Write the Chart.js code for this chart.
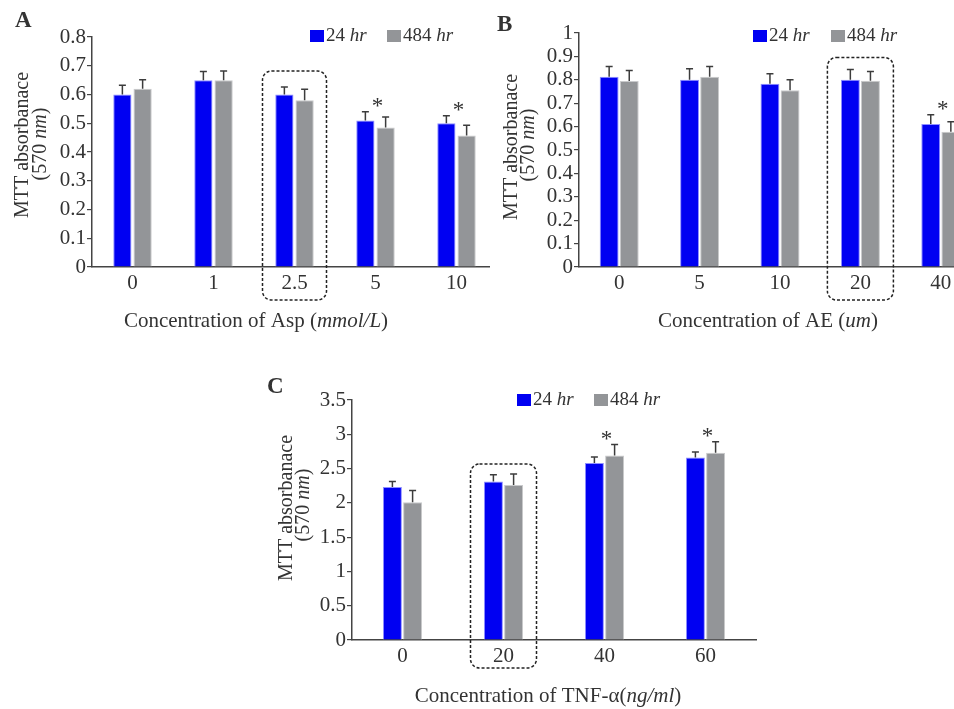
<!DOCTYPE html>
<html lang="en">
<head>
<meta charset="UTF-8">
<title>MTT absorbance</title>
<script src="https://cdn.jsdelivr.net/npm/chart.js@4.4.1/dist/chart.umd.min.js"></script>
<style>
  html, body { margin: 0; padding: 0; overflow: hidden; background: #fff; }
  body { width: 954px; height: 709px; position: relative; }
  .panel { position: absolute; background: #fff; }
</style>
</head>
<body>
<div class="panel" style="left:0;top:0;width:500px;height:345px"><canvas id="chartA"></canvas></div>
<div class="panel" style="left:490px;top:0;width:500px;height:345px"><canvas id="chartB"></canvas></div>
<div class="panel" style="left:255px;top:365px;width:520px;height:344px"><canvas id="chartC"></canvas></div>

<script>
// panel A - Asp
const labelsA = ['0', '1', '2.5', '5', '10'];
const hr24A = [0.60, 0.65, 0.60, 0.51, 0.50];
const hr484A = [0.62, 0.65, 0.58, 0.485, 0.457];
const err24A = [0.032, 0.03, 0.026, 0.03, 0.026];
const err484A = [0.031, 0.032, 0.038, 0.037, 0.036];
const starsA = [false, false, false, true, true];
const yTicksA = [0, 0.1, 0.2, 0.3, 0.4, 0.5, 0.6, 0.7, 0.8];

// panel B - AE
const labelsB = ['0', '5', '10', '20', '40'];
const hr24B = [0.813, 0.80, 0.783, 0.80, 0.611];
const hr484B = [0.795, 0.813, 0.755, 0.796, 0.578];
const err24B = [0.044, 0.047, 0.043, 0.044, 0.04];
const err484B = [0.045, 0.044, 0.045, 0.04, 0.043];
const starsB = [false, false, false, false, true];
const yTicksB = [0, 0.1, 0.2, 0.3, 0.4, 0.5, 0.6, 0.7, 0.8, 0.9, 1];

// panel C - TNF-alpha
const labelsC = ['0', '20', '40', '60'];
const hr24C = [2.23, 2.31, 2.58, 2.66];
const hr484C = [2.01, 2.26, 2.69, 2.73];
const err24C = [0.08, 0.1, 0.09, 0.08];
const err484C = [0.17, 0.16, 0.16, 0.16];
const starsC = [false, false, true, true];
const yTicksC = [0, 0.5, 1, 1.5, 2, 2.5, 3, 3.5];

const SERIF = '"Liberation Serif", "DejaVu Serif", serif';
const INK = '#333';
const BLUE = '#0000f2';
const GREY = '#939598';

Chart.defaults.font.family = SERIF;
Chart.defaults.color = INK;

// draw a row of text pieces, some italic
function textRuns(ctx, parts, x, y, size, center) {
  let w = 0;
  parts.forEach(p => {
    ctx.font = (p[1] ? 'italic ' : '') + size + 'px ' + SERIF;
    w += ctx.measureText(p[0]).width;
  });
  let cx = center ? x - w / 2 : x;
  ctx.textAlign = 'left';
  ctx.textBaseline = 'alphabetic';
  parts.forEach(p => {
    ctx.font = (p[1] ? 'italic ' : '') + size + 'px ' + SERIF;
    ctx.fillText(p[0], cx, y);
    cx += ctx.measureText(p[0]).width;
  });
}

const layoutInfo = {
  chartA: {
    stars: starsA,
    letter: ['A', 15, 27],
    yTitle: [[28, 145], [46, 144]],
    xTitle: [[['Concentration of Asp (', 0], ['mmol/L', 1], [')', 0]], 256, 327],
    legend: { x: [310, 387], top: 30, base: 41 },
    box: { index: 2, half: 32, above: 16, below: 33 }
  },
  chartB: {
    stars: starsB,
    letter: ['B', 7, 31],
    yTitle: [[27, 147], [44, 145]],
    xTitle: [[['Concentration of AE (', 0], ['um', 1], [')', 0]], 278, 327],
    legend: { x: [263, 341], top: 30, base: 41 },
    box: { index: 3, half: 33, above: 12, below: 33 }
  },
  chartC: {
    stars: starsC,
    letter: ['C', 12, 28],
    yTitle: [[37, 143], [54, 140]],
    xTitle: [[['Concentration of TNF-\u03b1(', 0], ['ng/ml', 1], [')', 0]], 293, 337],
    legend: { x: [262, 339], top: 29, base: 40 },
    box: { index: 1, half: 33, above: 10, below: 28 }
  }
};

const decor = {
  id: 'decor',
  afterDatasetsDraw(chart) {
    const info = layoutInfo[chart.canvas.id];
    const ctx = chart.ctx, xs = chart.scales.x, ys = chart.scales.y;
    const caps = [];
    ctx.save();
    ctx.strokeStyle = '#3c3c3c';
    ctx.lineWidth = 1.5;
    chart.data.datasets.forEach((ds, d) => {
      chart.getDatasetMeta(d).data.forEach((bar, i) => {
        const top = ys.getPixelForValue(ds.data[i] + ds.errors[i]);
        ctx.beginPath();
        ctx.moveTo(bar.x, bar.y);
        ctx.lineTo(bar.x, top);
        ctx.moveTo(bar.x - 3.5, top);
        ctx.lineTo(bar.x + 3.5, top);
        ctx.stroke();
        caps[i] = Math.min(caps[i] === undefined ? Infinity : caps[i], top);
      });
    });
    // significance stars
    ctx.fillStyle = INK;
    ctx.font = '23px ' + SERIF;
    ctx.textAlign = 'center';
    ctx.textBaseline = 'alphabetic';
    const m = ctx.measureText('*');
    const mid = (m.actualBoundingBoxAscent - m.actualBoundingBoxDescent) / 2;
    info.stars.forEach((s, i) => {
      if (s) ctx.fillText('*', xs.getPixelForValue(i) + 2, caps[i] - 9 + mid);
    });
    ctx.restore();
    chart.$caps = caps;
  },
  afterDraw(chart) {
    const info = layoutInfo[chart.canvas.id];
    const ctx = chart.ctx, xs = chart.scales.x;
    const area = chart.chartArea;
    ctx.save();

    // dashed highlight box
    const b = info.box;
    const cx = xs.getPixelForValue(b.index);
    const top = chart.$caps[b.index] - b.above;
    ctx.strokeStyle = '#222';
    ctx.lineWidth = 1.5;
    ctx.setLineDash([3, 2]);
    ctx.beginPath();
    ctx.roundRect(cx - b.half, top, b.half * 2, area.bottom + b.below - top, 9);
    ctx.stroke();
    ctx.setLineDash([]);

    ctx.fillStyle = INK;
    // panel letter
    ctx.font = 'bold 23px ' + SERIF;
    ctx.textAlign = 'left';
    ctx.textBaseline = 'alphabetic';
    ctx.fillText(info.letter[0], info.letter[1], info.letter[2]);

    // y title, two rotated lines
    const yl = [[['MTT absorbanace', 0]], [['(570 ', 0], ['nm', 1], [')', 0]]];
    yl.forEach((parts, k) => {
      ctx.save();
      ctx.translate(info.yTitle[k][0], info.yTitle[k][1]);
      ctx.rotate(-Math.PI / 2);
      textRuns(ctx, parts, 0, 0, 20, true);
      ctx.restore();
    });

    // x title
    textRuns(ctx, info.xTitle[0], info.xTitle[1], info.xTitle[2], 21, true);

    // legend
    const lg = info.legend;
    chart.data.datasets.forEach((ds, d) => {
      ctx.fillStyle = ds.backgroundColor;
      ctx.fillRect(lg.x[d], lg.top, 14, 12);
      ctx.fillStyle = INK;
      const num = ds.label.split(' ')[0];
      textRuns(ctx, [[num + ' ', 0], ['hr', 1]], lg.x[d] + 16, lg.base, 19, false);
    });
    ctx.restore();
  }
};

function makeChart(id, labels, s24, s484, e24, e484, yTicks, opt) {
  return new Chart(document.getElementById(id), {
    type: 'bar',
    data: {
      labels: labels,
      datasets: [
        { label: '24 hr', data: s24, errors: e24, backgroundColor: BLUE, borderColor: '#8f8fff', borderWidth: 1 },
        { label: '484 hr', data: s484, errors: e484, backgroundColor: GREY, borderColor: '#c9cacc', borderWidth: 1 }
      ]
    },
    options: {
      responsive: true,
      maintainAspectRatio: false,
      animation: false,
      categoryPercentage: opt.cat,
      barPercentage: opt.bar,
      layout: { padding: opt.pad },
      plugins: { legend: { display: false }, tooltip: { enabled: false } },
      scales: {
        x: {
          grid: { display: false, drawTicks: false },
          border: { color: '#444', width: 1.5 },
          ticks: { color: INK, font: { size: 21 }, padding: 4 },
          afterFit(s) { s.height = 30; }
        },
        y: {
          min: 0,
          max: yTicks[yTicks.length - 1],
          afterBuildTicks(s) { s.ticks = yTicks.map(v => ({ value: v })); },
          grid: { drawOnChartArea: false, drawTicks: true, tickLength: 5, color: '#444', lineWidth: 1.2 },
          border: { color: '#444', width: 1.5 },
          ticks: {
            color: INK, font: { size: 21 }, padding: 1, autoSkip: false,
            callback: v => String(v)
          },
          afterFit(s) { s.width = opt.yw; }
        }
      }
    },
    plugins: [decor]
  });
}

makeChart('chartA', labelsA, hr24A, hr484A, err24A, err484A, yTicksA,
  { cat: 0.5, bar: 0.9, yw: 92, pad: { left: 0, top: 37, right: 3, bottom: 48 } });
makeChart('chartB', labelsB, hr24B, hr484B, err24B, err484B, yTicksB,
  { cat: 0.5, bar: 0.94, yw: 89, pad: { left: 0, top: 33, right: 9, bottom: 48 } });
makeChart('chartC', labelsC, hr24C, hr484C, err24C, err484C, yTicksC,
  { cat: 0.4, bar: 0.94, yw: 97, pad: { left: 0, top: 35, right: 19, bottom: 39 } });
</script>
</body>
</html>
